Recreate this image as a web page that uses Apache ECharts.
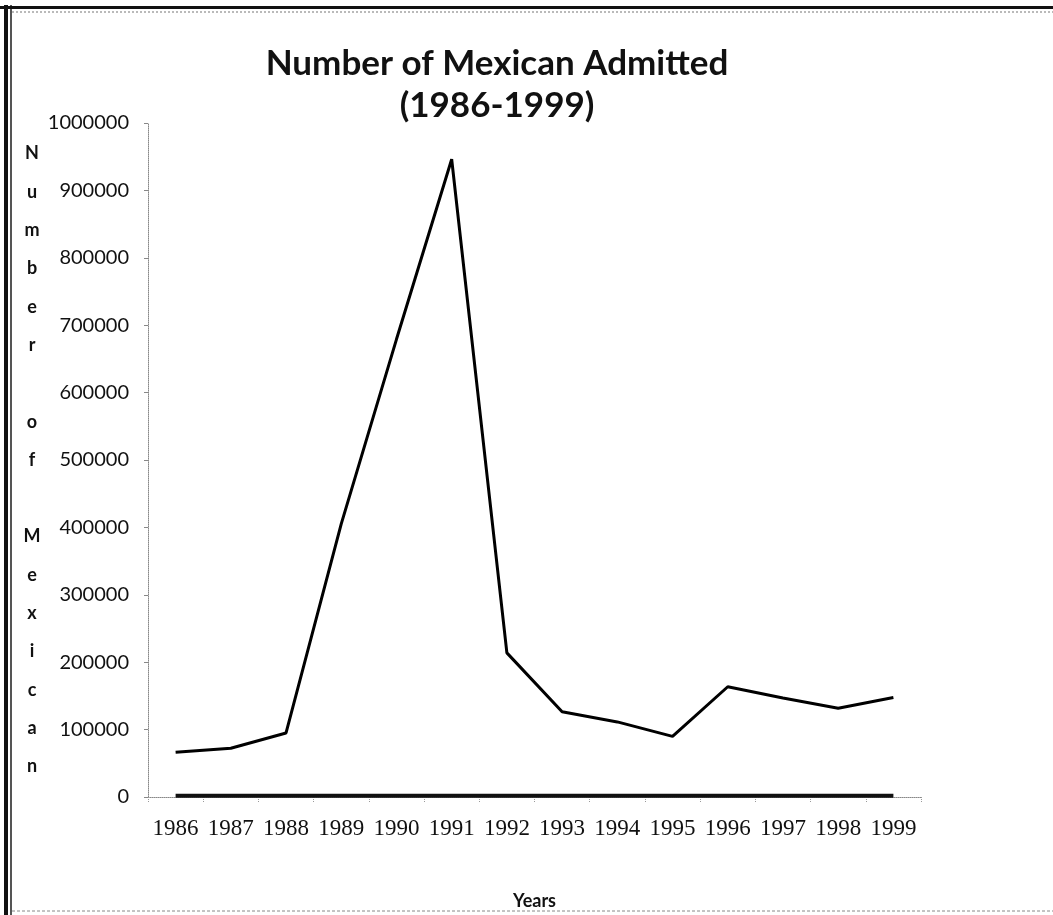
<!DOCTYPE html>
<html>
<head>
<meta charset="utf-8">
<title>Number of Mexican Admitted (1986-1999)</title>
<script src="https://cdn.jsdelivr.net/npm/echarts@6/dist/echarts.min.js"></script>
<style>
  html, body { margin: 0; padding: 0; background: #fff; }
  #chart { width: 1053px; height: 915px; }
</style>
</head>
<body>
<div id="chart"></div>
<script>
// Year categories along the x axis
const years = ['1986', '1987', '1988', '1989', '1990', '1991', '1992',
               '1993', '1994', '1995', '1996', '1997', '1998', '1999'];

// Mexican immigrants admitted per year
const admitted = [66533, 72351, 95039, 405172, 679068, 946167, 213802,
                  126561, 111398, 89932, 163572, 146865, 131575, 147573];

// The year column was also plotted as a series; on this scale it sits on the baseline
const yearValues = [1986, 1987, 1988, 1989, 1990, 1991, 1992,
                    1993, 1994, 1995, 1996, 1997, 1998, 1999];

// Vertical axis title, one letter per line
const yAxisTitle = 'Number of Mexican';

const yMin = 0, yMax = 1000000, yStep = 100000;

const chart = echarts.init(document.getElementById('chart'), null, { renderer: 'canvas' });

const stackedTitle = yAxisTitle.split('').join('\n');

chart.setOption({
  animation: false,
  backgroundColor: '#ffffff',
  title: {
    text: 'Number of Mexican Admitted\n(1986-1999)',
    left: 492,
    top: 38,
    textAlign: 'center',
    textStyle: {
      fontFamily: 'Lato',
      fontWeight: 'bold',
      fontSize: 35,
      lineHeight: 42,
      color: '#111'
    }
  },
  grid: { left: 148, right: 132, top: 123, bottom: 112 },
  xAxis: {
    type: 'category',
    data: years,
    boundaryGap: true,
    name: 'Years',
    nameLocation: 'middle',
    nameGap: 95,
    nameTextStyle: { fontFamily: 'Lato', fontWeight: 'bold', fontSize: 18, color: '#111' },
    axisLine: { show: true, lineStyle: { color: '#888', width: 1, type: 'dotted' } },
    axisTick: { show: true, length: 5, lineStyle: { color: '#999', type: 'dotted' } },
    axisLabel: {
      fontFamily: 'Liberation Serif',
      fontSize: 23,
      color: '#111',
      margin: 20,
      interval: 0
    },
    splitLine: { show: false }
  },
  yAxis: {
    type: 'value',
    min: yMin,
    max: yMax,
    interval: yStep,
    name: stackedTitle,
    nameLocation: 'middle',
    nameRotate: 0,
    nameGap: 116,
    nameTextStyle: {
      fontFamily: 'Lato',
      fontWeight: 'bold',
      fontSize: 18,
      lineHeight: 38.3,
      align: 'center',
      verticalAlign: 'middle',
      color: '#111'
    },
    axisLine: { show: true, lineStyle: { color: '#888', width: 1, type: 'dotted' } },
    axisTick: { show: true, length: 4, lineStyle: { color: '#888' } },
    axisLabel: {
      fontFamily: 'Lato',
      fontSize: 20,
      color: '#111',
      margin: 19,
      formatter: v => String(v)
    },
    splitLine: { show: false }
  },
  series: [
    {
      name: 'Admitted',
      type: 'line',
      data: admitted,
      symbol: 'none',
      lineStyle: { color: '#000', width: 3 },
      z: 3
    },
    {
      name: 'Years',
      type: 'line',
      data: yearValues,
      symbol: 'none',
      lineStyle: { color: '#111', width: 4 },
      z: 2
    }
  ],
  graphic: [
    // outer frame: heavy left edge, dark top rule, faint bottom rule
    { type: 'rect', shape: { x: 4, y: 5, width: 4, height: 910 }, style: { fill: '#111' }, silent: true },
    { type: 'rect', shape: { x: 10, y: 5, width: 2, height: 910 }, style: { fill: '#555' }, silent: true },
    { type: 'rect', shape: { x: 0, y: 6, width: 1053, height: 3 }, style: { fill: '#111' }, silent: true },
    { type: 'line', shape: { x1: 12, y1: 12, x2: 1053, y2: 12 }, style: { stroke: '#777', lineWidth: 1, lineDash: [2, 2] }, silent: true },
    { type: 'line', shape: { x1: 12, y1: 911, x2: 1053, y2: 911 }, style: { stroke: '#888', lineWidth: 1, lineDash: [3, 2] }, silent: true }
  ]
});
</script>
</body>
</html>
